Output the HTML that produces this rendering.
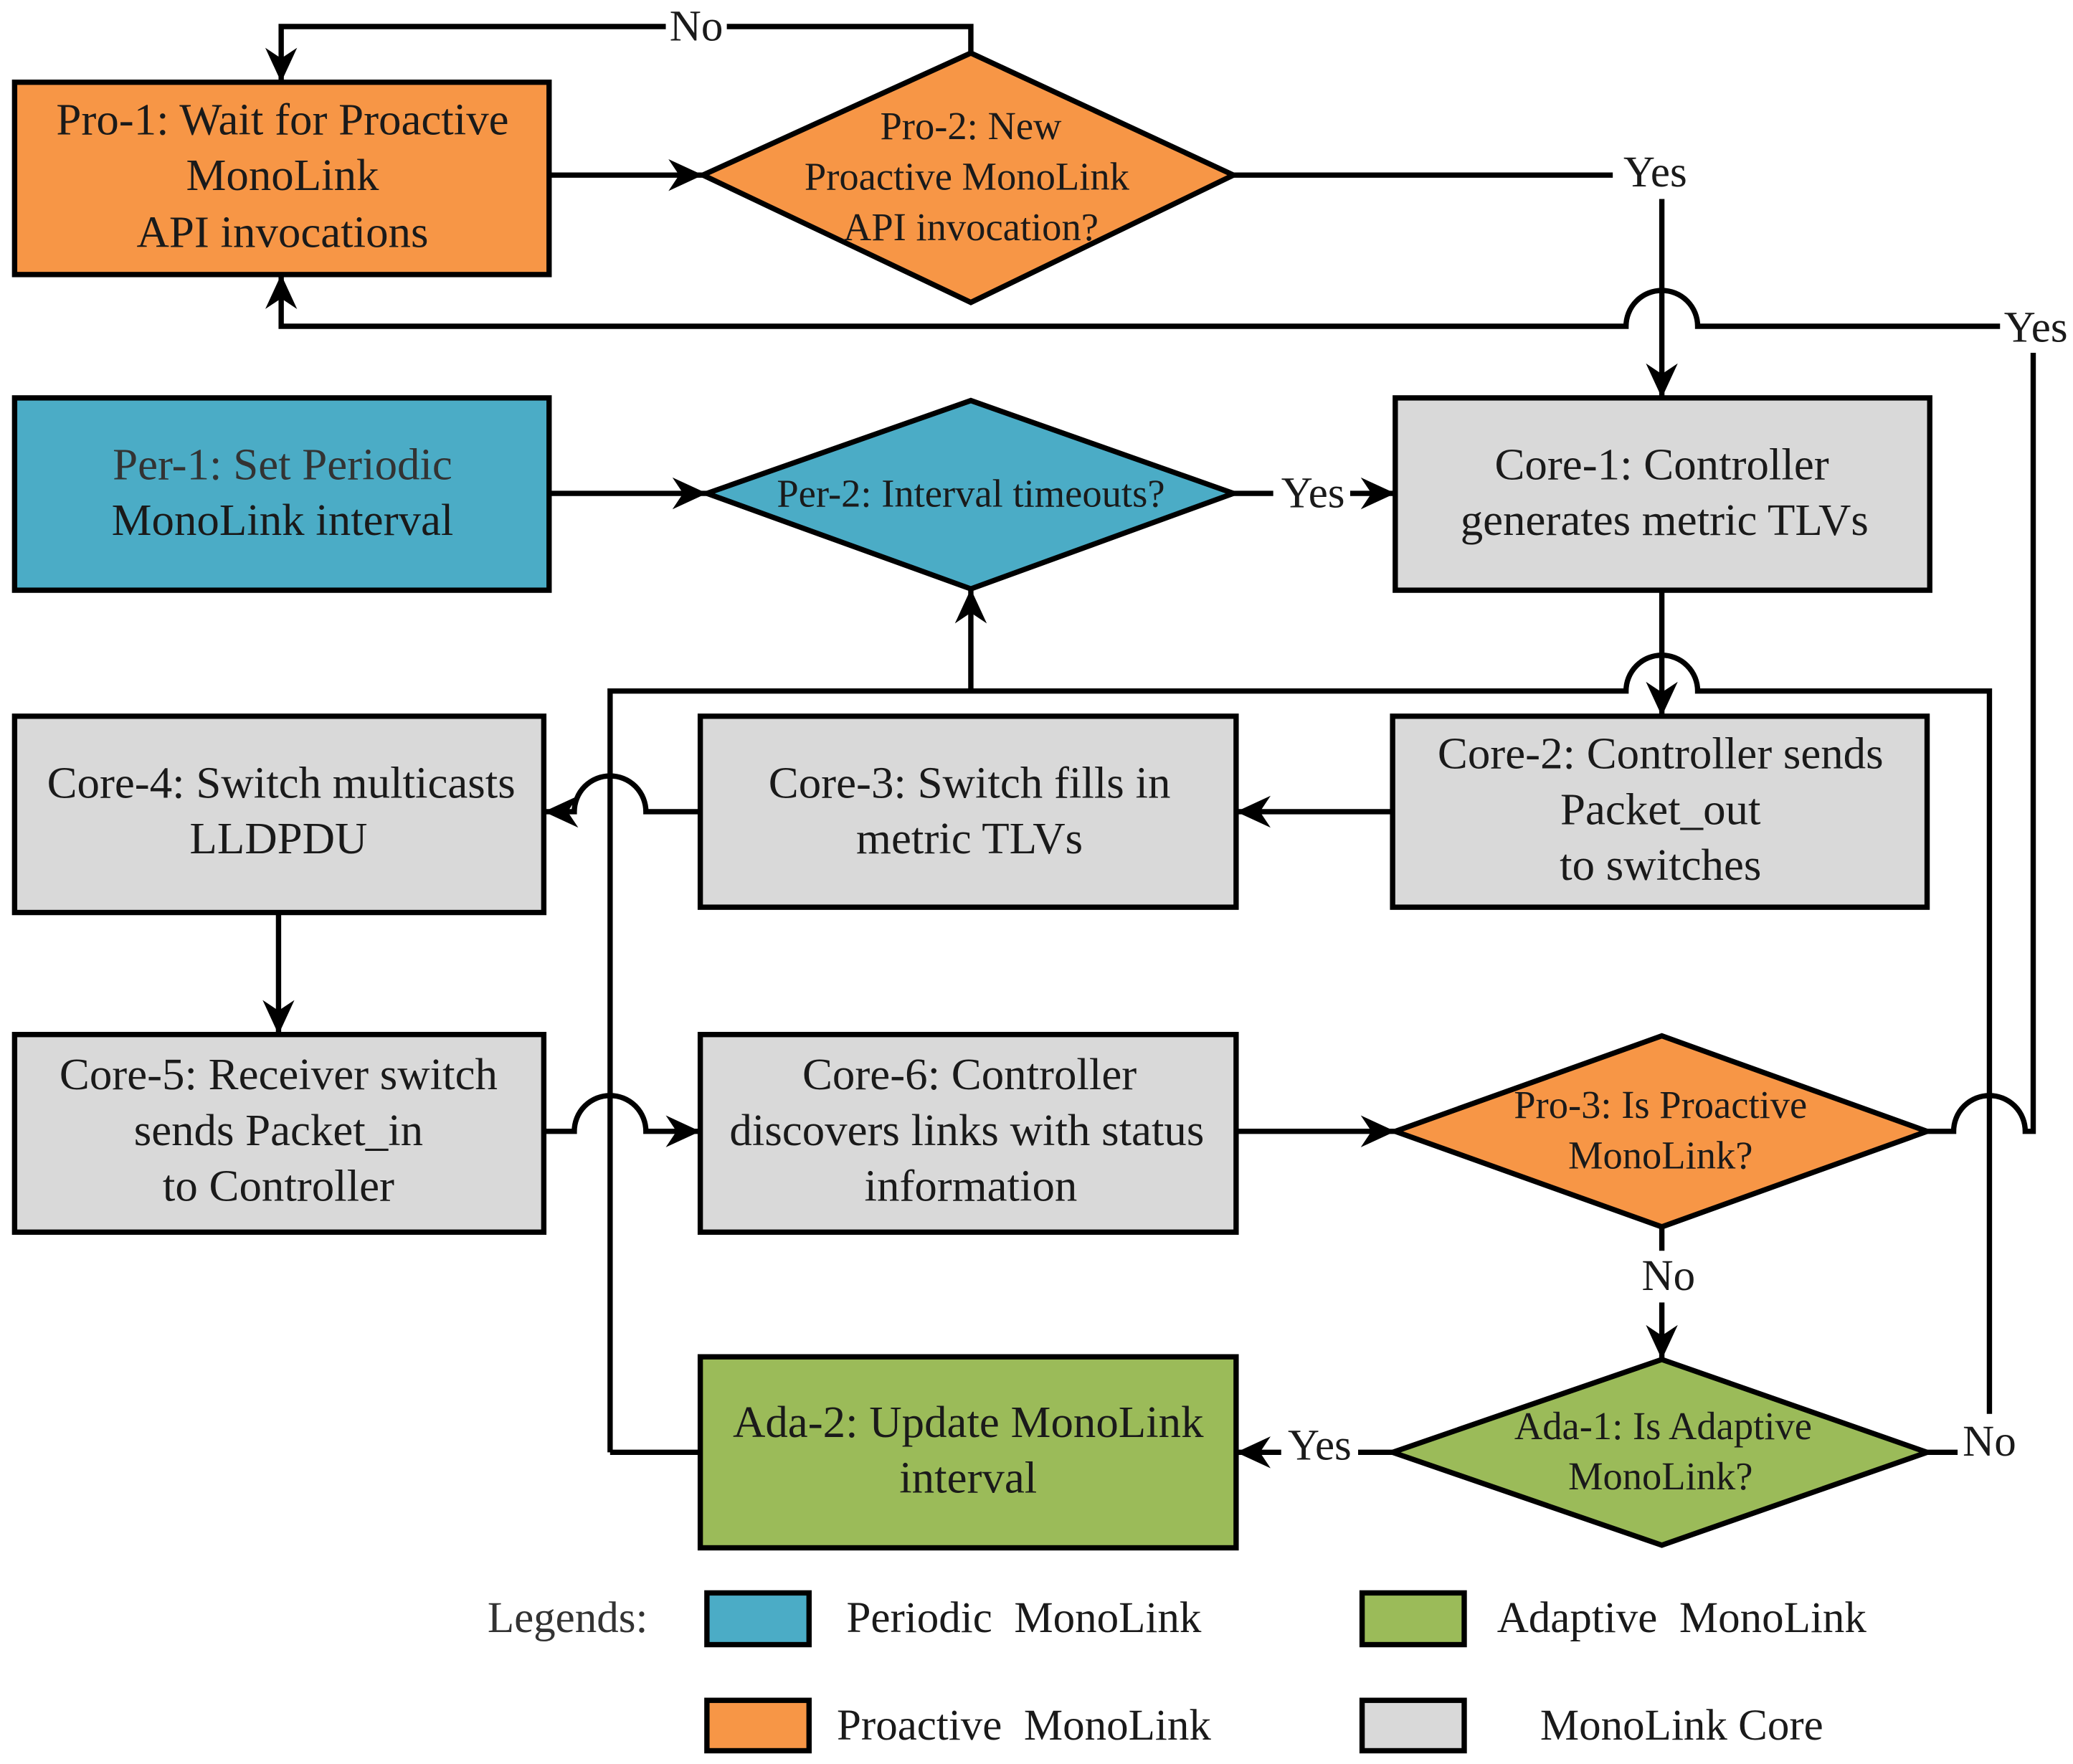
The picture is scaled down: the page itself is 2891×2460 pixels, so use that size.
<!DOCTYPE html>
<html><head><meta charset="utf-8"><style>
html,body{margin:0;padding:0;background:#fff}
svg{display:block}
text{font-family:"Liberation Serif",serif;fill:#1a1a1a;text-anchor:middle;dominant-baseline:central;white-space:pre}
.b{font-size:34px}
.d{font-size:29.5px}
.y{font-size:33px}
.g{font-size:33px}
.l{fill:none;stroke:#000;stroke-width:4}
.s{stroke:#000;stroke-width:4}
</style></head><body>
<svg width="2891" height="2460" viewBox="0 0 1563 1330" xmlns="http://www.w3.org/2000/svg">
<defs>
<marker id="a" markerWidth="30" markerHeight="30" refX="26" refY="12" orient="auto" markerUnits="userSpaceOnUse">
<path d="M0,0 L26,12 L0,24 L8,12 z" fill="#000"/>
</marker>
</defs>
<rect x="11" y="62" width="403" height="145" fill="#F79646" class="s"/>
<rect x="11" y="300" width="403" height="145" fill="#4BACC6" class="s"/>
<rect x="1052" y="300" width="403" height="145" fill="#D9D9D9" class="s"/>
<rect x="1050" y="540" width="403" height="144" fill="#D9D9D9" class="s"/>
<rect x="528" y="540" width="404" height="144" fill="#D9D9D9" class="s"/>
<rect x="11" y="540" width="399" height="148" fill="#D9D9D9" class="s"/>
<rect x="11" y="780" width="399" height="149" fill="#D9D9D9" class="s"/>
<rect x="528" y="780" width="404" height="149" fill="#D9D9D9" class="s"/>
<rect x="528" y="1023" width="404" height="144" fill="#9BBB59" class="s"/>
<polygon points="530,132 732,40 930,132 732,228" fill="#F79646" class="s"/>
<polygon points="533,372 732,302 930,372 732,444" fill="#4BACC6" class="s"/>
<polygon points="1052,853 1253,781 1453,853 1253,925" fill="#F79646" class="s"/>
<polygon points="1050,1095 1253,1025 1453,1095 1253,1165" fill="#9BBB59" class="s"/>
<path class="l" d="M414,132 L530,132" marker-end="url(#a)"/>
<path class="l" d="M732,40 L732,20 L548,20 M502,20 L212,20 L212,62" marker-end="url(#a)"/>
<path class="l" d="M930,132 L1216,132"/>
<path class="l" d="M1253,150 L1253,300" marker-end="url(#a)"/>
<path class="l" d="M1508,246 L1280,246 A27,27 0 0 0 1226,246 L212,246 L212,207" marker-end="url(#a)"/>
<path class="l" d="M1533,266 L1533,853 L1527,853 A27,27 0 0 0 1473,853 L1453,853"/>
<path class="l" d="M414,372 L533,372" marker-end="url(#a)"/>
<path class="l" d="M930,372 L960,372"/>
<path class="l" d="M1018,372 L1052,372" marker-end="url(#a)"/>
<path class="l" d="M1253,445 L1253,540" marker-end="url(#a)"/>
<path class="l" d="M732,521 L732,444" marker-end="url(#a)"/>
<path class="l" d="M460,1095 L460,521 L1226,521 A27,27 0 0 1 1280,521 L1500,521 L1500,1066"/>
<path class="l" d="M460,1095 L528,1095"/>
<path class="l" d="M1050,612 L932,612" marker-end="url(#a)"/>
<path class="l" d="M528,612 L487,612 A27,27 0 0 0 433,612 L410,612" marker-end="url(#a)"/>
<path class="l" d="M210,688 L210,780" marker-end="url(#a)"/>
<path class="l" d="M410,853 L433,853 A27,27 0 0 1 487,853 L528,853" marker-end="url(#a)"/>
<path class="l" d="M932,853 L1052,853" marker-end="url(#a)"/>
<path class="l" d="M1253,925 L1253,943 M1253,982 L1253,1025" marker-end="url(#a)"/>
<path class="l" d="M1453,1095 L1476,1095"/>
<path class="l" d="M1050,1095 L1024,1095"/>
<path class="l" d="M966,1095 L932,1095" marker-end="url(#a)"/>
<text x="525" y="20" class="y">No</text>
<text x="1248" y="130" class="y">Yes</text>
<text x="1535" y="247" class="y">Yes</text>
<text x="990" y="372" class="y">Yes</text>
<text x="1258" y="962" class="y">No</text>
<text x="1500" y="1087" class="y">No</text>
<text x="995" y="1090" class="y">Yes</text>
<text x="213" y="90" class="b">Pro-1: Wait for Proactive</text>
<text x="213" y="132" class="b">MonoLink</text>
<text x="213" y="175" class="b">API invocations</text>
<text x="732" y="95" class="d">Pro-2: New</text>
<text x="729" y="133" class="d">Proactive MonoLink</text>
<text x="732" y="171" class="d">API invocation?</text>
<text x="213" y="350" class="b" style="fill:#333">Per-1: Set Periodic</text>
<text x="213" y="392" class="b">MonoLink interval</text>
<text x="732" y="372" class="d">Per-2: Interval timeouts?</text>
<text x="1253" y="350" class="b">Core-1: Controller</text>
<text x="1255" y="392" class="b">generates metric TLVs</text>
<text x="1252" y="568" class="b">Core-2: Controller sends</text>
<text x="1252" y="610" class="b">Packet_out</text>
<text x="1252" y="652" class="b">to switches</text>
<text x="731" y="590" class="b">Core-3: Switch fills in</text>
<text x="731" y="632" class="b">metric TLVs</text>
<text x="212" y="590" class="b">Core-4: Switch multicasts</text>
<text x="210" y="632" class="b">LLDPDU</text>
<text x="210" y="810" class="b">Core-5: Receiver switch</text>
<text x="210" y="852" class="b">sends Packet_in</text>
<text x="210" y="894" class="b">to Controller</text>
<text x="731" y="810" class="b">Core-6: Controller</text>
<text x="729" y="852" class="b">discovers links with status</text>
<text x="732" y="894" class="b">information</text>
<text x="1252" y="833" class="d">Pro-3: Is Proactive</text>
<text x="1252" y="871" class="d">MonoLink?</text>
<text x="1254" y="1075" class="d">Ada-1: Is Adaptive</text>
<text x="1252" y="1113" class="d">MonoLink?</text>
<text x="730" y="1072" class="b">Ada-2: Update MonoLink</text>
<text x="730" y="1114" class="b">interval</text>
<text x="428" y="1220" class="g" style="fill:#333">Legends:</text>
<rect x="533" y="1201" width="77" height="39" fill="#4BACC6" class="s"/>
<rect x="1027" y="1201" width="77" height="39" fill="#9BBB59" class="s"/>
<rect x="533" y="1282" width="77" height="38" fill="#F79646" class="s"/>
<rect x="1027" y="1282" width="77" height="38" fill="#D9D9D9" class="s"/>
<text x="772" y="1220" class="g">Periodic  MonoLink</text>
<text x="1268" y="1220" class="g">Adaptive  MonoLink</text>
<text x="772" y="1301" class="g">Proactive  MonoLink</text>
<text x="1268" y="1301" class="g">MonoLink Core</text>
</svg>
</body></html>
